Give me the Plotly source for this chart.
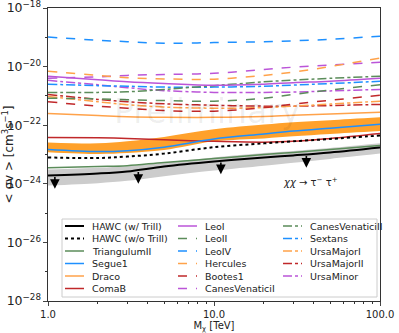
import numpy as np
import plotly.graph_objects as go

# dark matter mass [TeV]
masses = [1, 2, 3, 5, 10, 20, 30, 50, 100]

# log10(<sigma v>) values
hawc_trill = [-23.72, -23.65, -23.58, -23.41, -23.24, -23.10, -23.03, -22.93, -22.76]
hawc_trill_hi = [-23.51, -23.45, -23.40, -23.27, -23.10, -22.95, -22.88, -22.78, -22.62]
hawc_trill_lo = [-24.06, -23.98, -23.90, -23.74, -23.55, -23.38, -23.28, -23.15, -22.97]
hawc_notrill = [-23.10, -23.12, -23.07, -22.97, -22.75, -22.62, -22.55, -22.47, -22.35]
notrill_hi = [-22.59, -22.62, -22.55, -22.40, -22.14, -21.98, -21.90, -21.83, -21.73]
notrill_lo = [-22.92, -22.98, -22.95, -22.85, -22.55, -22.45, -22.38, -22.30, -22.20]
triangulum2 = [-23.45, -23.41, -23.38, -23.27, -23.14, -23.00, -22.93, -22.83, -22.69]
segue1 = [-22.83, -22.90, -22.87, -22.75, -22.47, -22.30, -22.20, -22.10, -21.97]
draco = [-21.60, -21.67, -21.71, -21.73, -21.73, -21.70, -21.66, -21.62, -21.56]
comab = [-22.42, -22.43, -22.45, -22.50, -22.55, -22.58, -22.55, -22.45, -22.28]
leo1 = [-20.33, -20.45, -20.52, -20.58, -20.64, -20.60, -20.55, -20.50, -20.40]
leo2 = [-21.08, -21.10, -21.13, -21.16, -21.18, -21.08, -20.95, -20.80, -20.62]
leo4 = [-18.99, -19.10, -19.15, -19.20, -19.18, -19.15, -19.12, -19.07, -18.96]
hercules = [-20.16, -20.30, -20.38, -20.42, -20.43, -20.30, -20.19, -20.00, -19.71]
bootes1 = [-21.20, -21.35, -21.42, -21.50, -21.52, -21.40, -21.28, -21.15, -20.98]
cvn1 = [-20.40, -20.35, -20.30, -20.27, -20.23, -20.10, -20.02, -19.95, -19.85]
cvn2 = [-20.88, -20.88, -20.86, -20.78, -20.65, -20.52, -20.46, -20.40, -20.33]
sextans = [-20.60, -20.65, -20.67, -20.70, -20.70, -20.67, -20.63, -20.58, -20.50]
umaj1 = [-21.02, -21.20, -21.30, -21.38, -21.42, -21.40, -21.35, -21.28, -21.18]
umaj2 = [-20.95, -21.12, -21.20, -21.27, -21.32, -21.35, -21.35, -21.33, -21.29]
umin = [-20.47, -20.62, -20.72, -20.82, -20.88, -20.88, -20.87, -20.83, -20.78]

# upper limit arrows on the HAWC (w/ Trill) curve
arrow_mass = [1.1, 3.5, 11, 36]
arrow_val = [-23.72, -23.55, -23.22, -23.00]

GREEN = "#5b8c5a"
BLUE = "#1e90ff"
ORANGE = "#ffa24a"
RED = "#c0282a"
PURPLE = "#bb55d8"

series = [
    ("HAWC (w/ Trill)", hawc_trill, "black", "solid", 2),
    ("HAWC (w/o Trill)", hawc_notrill, "black", "dot", 2),
    ("TriangulumII", triangulum2, GREEN, "solid", 1.5),
    ("Segue1", segue1, BLUE, "solid", 1.5),
    ("Draco", draco, ORANGE, "solid", 1.5),
    ("ComaB", comab, RED, "solid", 1.5),
    ("LeoI", leo1, PURPLE, "solid", 1.5),
    ("LeoII", leo2, GREEN, "dash", 1.5),
    ("LeoIV", leo4, BLUE, "dash", 1.5),
    ("Hercules", hercules, ORANGE, "dash", 1.5),
    ("Bootes1", bootes1, RED, "dash", 1.5),
    ("CanesVenaticiI", cvn1, PURPLE, "dash", 1.5),
    ("CanesVenaticiII", cvn2, GREEN, "dashdot", 1.5),
    ("Sextans", sextans, BLUE, "dashdot", 1.5),
    ("UrsaMajorI", umaj1, ORANGE, "dashdot", 1.5),
    ("UrsaMajorII", umaj2, RED, "dashdot", 1.5),
    ("UrsaMinor", umin, PURPLE, "dashdot", 1.5),
]

def p10(v):
    return 10 ** np.array(v)

fig = go.Figure()

# uncertainty bands
fig.add_trace(go.Scatter(x=masses, y=p10(hawc_trill_hi), mode="lines", line=dict(width=0, shape="spline"),
                         showlegend=False, hoverinfo="skip"))
fig.add_trace(go.Scatter(x=masses, y=p10(hawc_trill_lo), mode="lines", line=dict(width=0, shape="spline"),
                         fill="tonexty", fillcolor="#cccccc", showlegend=False, hoverinfo="skip"))
fig.add_trace(go.Scatter(x=masses, y=p10(notrill_hi), mode="lines", line=dict(width=0, shape="spline"),
                         showlegend=False, hoverinfo="skip"))
fig.add_trace(go.Scatter(x=masses, y=p10(notrill_lo), mode="lines", line=dict(width=0, shape="spline"),
                         fill="tonexty", fillcolor="#ffa12b", showlegend=False, hoverinfo="skip"))

for name, vals, col, dash, w in reversed(series):
    fig.add_trace(go.Scatter(x=masses, y=p10(vals), mode="lines", name=name,
                             line=dict(color=col, dash=dash, width=w, shape="spline"),
                             showlegend=False))

# arrows
for m, v in zip(arrow_mass, arrow_val):
    fig.add_annotation(x=np.log10(m), y=v - 0.45, ax=np.log10(m), ay=v, xref="x", yref="y",
                       axref="x", ayref="y", showarrow=True, arrowhead=2, arrowsize=1.2,
                       arrowwidth=1.6, arrowcolor="black", text="")

# hand-made legend (matplotlib style, 3 columns)
W, H, L, T = 332, 293, 48, 8
def px(x):
    return (x - L) / W
def py(y):
    return (T + H - y) / H

fig.add_shape(type="rect", xref="paper", yref="paper", x0=px(62), x1=px(377), y0=py(297), y1=py(219),
              line=dict(color="#cccccc", width=1), fillcolor="rgba(255,255,255,0.8)", layer="above")
col_x = [65, 178, 283]
for i, (name, vals, col, dash, w) in enumerate(series):
    c, r = divmod(i, 6)
    yy = 226 + r * 12.5
    fig.add_shape(type="line", xref="paper", yref="paper", x0=px(col_x[c]), x1=px(col_x[c] + 19),
                  y0=py(yy), y1=py(yy), line=dict(color=col, dash=dash, width=w), layer="above")
    fig.add_annotation(x=px(col_x[c] + 25), y=py(yy), xref="paper", yref="paper", text=name,
                       showarrow=False, xanchor="left", yanchor="middle",
                       font=dict(size=9.5, color="#222222"))

fig.add_annotation(x=px(340), y=py(182), xref="paper", yref="paper",
                   text="<i>χχ</i> → τ<sup>−</sup> τ<sup>+</sup>", showarrow=False,
                   font=dict(size=10, color="#222222"))
fig.add_annotation(x=px(207), y=py(112), xref="paper", yref="paper", text="Preliminary",
                   showarrow=False, font=dict(size=33, color="rgba(0,0,0,0.07)"))

fig.update_xaxes(type="log", range=[0, 2], tickvals=[1, 10, 100], ticktext=["1.0", "10.0", "100.0"],
                 ticks="outside", ticklen=4, showline=True, linecolor="#333333", mirror=True,
                 minor=dict(ticks="outside", ticklen=2, dtick="D1", tickcolor="#333333"),
                 showgrid=False, automargin=False, ticklabeloverflow="allow",
                 title=dict(text="M<sub>χ</sub> [TeV]", standoff=0, font=dict(size=10)))
fig.update_yaxes(type="log", range=[-28, -18], dtick=2, exponentformat="power", showexponent="all",
                 ticks="outside", ticklen=4, showline=True, linecolor="#333333", mirror=True,
                 minor=dict(ticks="outside", ticklen=2, dtick=1, tickcolor="#333333"),
                 showgrid=False, automargin=False, ticklabeloverflow="allow",
                 title=dict(text="< σv > [cm<sup>3</sup>s<sup>−1</sup>]", standoff=4))
fig.update_layout(width=399, height=333, margin=dict(l=48, r=19, t=8, b=32),
                  plot_bgcolor="white", paper_bgcolor="white",
                  font=dict(family="DejaVu Sans", size=10, color="#222222"))
fig.write_html("out.html", config={"displayModeBar": False},
               post_script="document.body.style.margin='0';")
